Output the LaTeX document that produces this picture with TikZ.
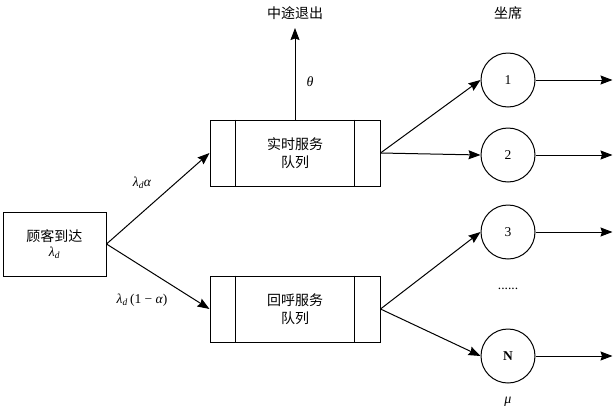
\documentclass[tikz,border=0pt]{standalone}
\usepackage{fontspec}
\setmainfont{Liberation Serif}
\newfontfamily\cjk{Noto Sans CJK SC}
\usetikzlibrary{%
  arrows.meta,%
  positioning,%
  calc%
}
\newcommand{\ld}{{\itshape λ}\textsubscript{\itshape d}}

\begin{document}
\begin{tikzpicture}[
  x=1pt, y=-1pt, font=\fontsize{13.5}{16}\selectfont,
  >={Stealth[length=12pt,width=9pt,inset=1.5pt]}, line width=1pt,
  queue/.style={draw, minimum width=170pt, minimum height=66pt, inner sep=0pt,
    align=center, font=\fontsize{14}{18}\selectfont\cjk},
  seat/.style={draw, circle, minimum size=54pt, inner sep=0pt},
  greek/.style={font=\fontsize{14}{16}\selectfont\itshape}
]
\useasboundingbox (0,0) rectangle (614,413);

\node[draw, minimum width=103pt, minimum height=64pt, inner sep=0pt, align=center]
  (cust) at (54.5,244) {{\fontsize{14}{16}\selectfont\cjk 顾客到达}\\[-1pt] \ld};

\node[queue] (rt) at (295,153) {实时服务\\队列};
\node[queue] (cb) at (295,309) {回呼服务\\队列};
\foreach \q in {rt,cb} {
  \draw ($(\q.north west)+(26,0)$) -- ($(\q.south west)+(26,0)$);
  \draw ($(\q.north east)+(-26,0)$) -- ($(\q.south east)+(-26,0)$);
}

\node[seat] (s1) at (508,80) {1};
\node[seat] (s2) at (508,155) {2};
\node[seat] (s3) at (508,232) {3};
\node[seat] (sN) at (508,356) {\textbf{N}};

\node[font=\fontsize{14}{16}\selectfont\cjk] (quit) at (295,13) {中途退出};
\node[font=\fontsize{14}{16}\selectfont\cjk] (desk) at (508,13) {坐席};
\coordinate (quitend) at (295,28);

\node (la) at (142,183) {\ld{\itshape α}};
\node (lb) at (142,300) {\ld\,(1 − {\itshape α})};
\node[greek] (th) at (310,82) {θ};
\node (dots) at (508,289) {......};
\node[greek] (mu) at (508,402) {μ};

\draw[->] (cust.east) -- (rt.west);
\draw[->] (cust.east) -- (cb.west);
\draw[->] (rt.north) -- (quitend);
\draw[->] (rt.east) -- (s1.west);
\draw[->] (rt.east) -- (s2.west);
\draw[->] (cb.east) -- (s3.west);
\draw[->] (cb.east) -- (sN.west);

\foreach \s in {s1,s2,s3,sN} {
  \coordinate (\s out) at ($(\s.east)+(77,0)$);
  \draw[->] (\s.east) -- (\s out);
}

\end{tikzpicture}
\end{document}
